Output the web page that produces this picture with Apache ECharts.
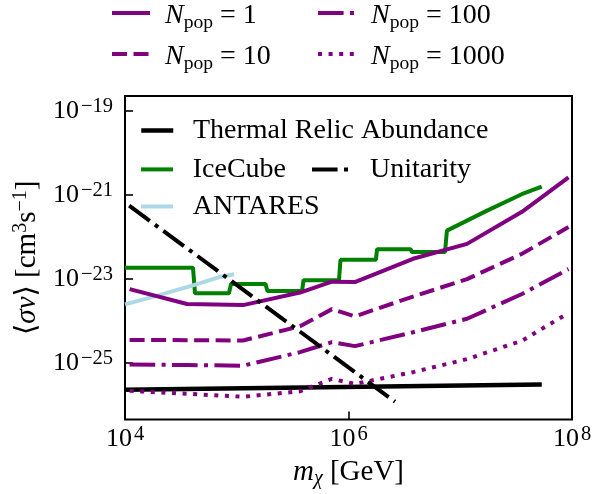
<!DOCTYPE html>
<html><head><meta charset="utf-8">
<script src="https://cdn.jsdelivr.net/npm/echarts@6.0.0/dist/echarts.min.js"></script>
<style>html,body{margin:0;padding:0;background:#fff}#c{width:600px;height:494px}</style>
</head><body><div id="c"></div>
<script>
// ---- data (mass in GeV, <sigma v> in cm^3 s^-1) ----
const massNodes = [1.10e4, 3.59e4, 1.14e5, 3.68e5, 7.11e5, 1.14e6, 3.78e6, 1.15e7, 3.57e7, 9.31e7];
const npop1    = [5.70e-24, 2.52e-24, 2.37e-24, 4.72e-24, 8.57e-24, 8.36e-24, 3.00e-23, 6.78e-23, 3.93e-22, 2.59e-21];
const npop10   = [3.52e-25, 3.47e-25, 3.41e-25, 7.43e-25, 1.90e-24, 1.28e-24, 3.79e-24, 9.82e-24, 3.94e-23, 1.71e-22];
const npop100  = [9.14e-26, 8.89e-26, 8.57e-26, 1.80e-25, 3.11e-25, 2.50e-25, 5.36e-25, 1.12e-24, 4.35e-24, 1.71e-23];
const npop1000 = [2.16e-26, 1.84e-26, 1.56e-26, 2.11e-26, 4.16e-26, 3.17e-26, 6.01e-26, 1.23e-25, 3.37e-25, 1.54e-24];

const iceMass  = [1.00e4, 4.06e4, 4.23e4, 8.52e4, 8.89e4, 1.81e5, 1.88e5, 3.84e5, 3.96e5, 8.22e5, 8.48e5, 1.76e6, 1.80e6, 3.59e6, 3.70e6, 7.30e6, 7.60e6, 1.72e7, 3.55e7, 5.36e7];
const iceSigma = [1.84e-23, 1.84e-23, 4.52e-24, 4.52e-24, 7.57e-24, 7.57e-24, 5.12e-24, 5.12e-24, 9.31e-24, 9.31e-24, 2.84e-23, 2.84e-23, 5.08e-23, 5.08e-23, 4.32e-23, 4.32e-23, 1.40e-22, 4.14e-22, 1.03e-21, 1.56e-21];

const antaresMass  = [1.00e4, 1.78e4, 4.06e4, 7.08e4, 9.45e4];
const antaresSigma = [2.46e-24, 3.73e-24, 7.01e-24, 1.11e-23, 1.29e-23];

const thermalMass  = [1.00e4, 5.36e7];
const thermalSigma = [2.29e-26, 3.05e-26];

const unitarityMass  = [1.09e4, 2.61e6];
const unitaritySigma = [5.50e-22, 1.19e-26];

const xTickValues = [1e4, 1e6, 1e8];
const yTickValues = [1e-25, 1e-23, 1e-21, 1e-19];
const npopLabels = {Npop1: '1', Npop10: '10', Npop100: '100', Npop1000: '1000'};

// ---- styling ----
const SERIF = "'Liberation Serif', 'DejaVu Serif', serif";
const PURPLE = '#800080', GREEN = '#008000', LIGHTBLUE = '#add8e6', BLACK = '#000000';
const LW = 4;
const DASHED = [15, 6.5], DASHDOT = [25.6, 6.4, 4, 6.4], DOTTED = [4, 6.6];

const zip = (xs, ys) => xs.map((x, i) => [x, ys[i]]);
const expOf = v => Math.round(Math.log10(v));
const powLabel = v => { const e = expOf(v); return '{b|10}{s|' + (e < 0 ? '\u2212' + (-e) : e) + '}'; };

const tickRich = {
  b: {fontFamily: SERIF, fontSize: 26, lineHeight: 30, color: '#000'},
  s: {fontFamily: SERIF, fontSize: 20.5, lineHeight: 14, verticalAlign: 'top', padding: [0, 0, 0, 2], color: '#000'}
};

const legendRich = {
  n: {fontFamily: SERIF, fontStyle: 'italic', fontSize: 28, lineHeight: 34, color: '#000'},
  s: {fontFamily: SERIF, fontSize: 19.6, lineHeight: 19, verticalAlign: 'bottom', color: '#000'},
  t: {fontFamily: SERIF, fontSize: 28, lineHeight: 34, color: '#000'}
};

function mkLegend(name, left, top, itemWidth, textPad, lineWidth) {
  return {
    data: [name], left: left, top: top, padding: 0, itemWidth: itemWidth, itemHeight: 14,
    selectedMode: false, itemStyle: {opacity: 0},
    lineStyle: {width: lineWidth},
    textStyle: {padding: textPad, rich: legendRich},
    formatter: n => npopLabels[n] ? '{n|N}{s|pop}{t| = ' + npopLabels[n] + '}' : '{t|' + n + '}'
  };
}

function lineSeries(name, data, color, type, width, z) {
  return {
    name: name, type: 'line', data: data, symbol: 'none', showSymbol: false, z: z,
    lineStyle: {color: color, width: width, type: type, cap: 'butt'},
    itemStyle: {color: color}, silent: true, animation: false
  };
}

const chart = echarts.init(document.getElementById('c'), null, {renderer: 'canvas'});
chart.setOption({
  animation: false,
  backgroundColor: '#fff',
  grid: {left: 125, top: 96, width: 447, height: 326, show: true, borderColor: '#000', borderWidth: 2, backgroundColor: 'transparent'},
  legend: [
    mkLegend('Npop1', 110, 2, 38, [6, 0, 0, 10], LW),
    mkLegend('Npop10', 110, 43, 38, [6, 0, 0, 10], LW),
    mkLegend('Npop100', 316, 2, 38, [6, 0, 0, 10], LW),
    mkLegend('Npop1000', 316, 43, 38, [6, 0, 0, 10], LW),
    mkLegend('Thermal Relic Abundance', 139, 116.6, 32, [0, 0, 0, 14.7], 4.5),
    mkLegend('IceCube', 139, 155.4, 32, [0, 0, 0, 14.7], LW),
    mkLegend('ANTARES', 139, 192.5, 32, [0, 0, 0, 14.7], LW),
    mkLegend('Unitarity', 310, 155.4, 36, [0, 0, 0, 17], LW)
  ],
  xAxis: {
    type: 'log', logBase: 10, min: 1e4, max: 1e8,
    axisLine: {show: false},
    axisTick: {show: true, inside: true, length: 8, lineStyle: {color: '#000', width: 1.6}, customValues: xTickValues},
    axisLabel: {customValues: xTickValues, formatter: powLabel, rich: tickRich, margin: 5},
    splitLine: {show: false}, minorTick: {show: false},
    name: '{i|m}{c|\u03c7}{t| [GeV]}', nameLocation: 'middle', nameGap: 30,
    nameTextStyle: {rich: {
      i: {fontFamily: SERIF, fontStyle: 'italic', fontSize: 29, lineHeight: 34, color: '#000'},
      c: {fontFamily: SERIF, fontStyle: 'italic', fontSize: 20, lineHeight: 19, verticalAlign: 'bottom', color: '#000'},
      t: {fontFamily: SERIF, fontSize: 29, lineHeight: 34, color: '#000'}
    }}
  },
  yAxis: {
    type: 'log', logBase: 10, min: 4.47e-27, max: 2.24e-19,
    axisLine: {show: false},
    axisTick: {show: true, inside: true, length: 8, lineStyle: {color: '#000', width: 1.6}, customValues: yTickValues},
    axisLabel: {customValues: yTickValues, formatter: powLabel, rich: tickRich, margin: 12},
    splitLine: {show: false}, minorTick: {show: false},
    name: '{t|\u27e8}{i|\u03c3v}{t|\u27e9 [cm}{s|3}{t|s}{s|\u22121}{t|]}', nameLocation: 'middle', nameGap: 80,
    nameTextStyle: {rich: {
      i: {fontFamily: SERIF, fontStyle: 'italic', fontSize: 29, lineHeight: 34, color: '#000'},
      s: {fontFamily: SERIF, fontSize: 20, lineHeight: 16, verticalAlign: 'top', color: '#000'},
      t: {fontFamily: SERIF, fontSize: 29, lineHeight: 34, color: '#000'}
    }}
  },
  series: [
    lineSeries('Thermal Relic Abundance', zip(thermalMass, thermalSigma), BLACK, 'solid', 4.5, 2),
    lineSeries('IceCube', zip(iceMass, iceSigma), GREEN, 'solid', LW, 3),
    lineSeries('ANTARES', zip(antaresMass, antaresSigma), LIGHTBLUE, 'solid', LW, 4),
    lineSeries('Npop1', zip(massNodes, npop1), PURPLE, 'solid', LW, 5),
    lineSeries('Npop10', zip(massNodes, npop10), PURPLE, DASHED, LW, 5),
    lineSeries('Npop100', zip(massNodes, npop100), PURPLE, DASHDOT, LW, 5),
    lineSeries('Npop1000', zip(massNodes, npop1000), PURPLE, DOTTED, LW, 5),
    lineSeries('Unitarity', zip(unitarityMass, unitaritySigma), BLACK, DASHDOT, LW, 6)
  ]
});
</script>
</body></html>
